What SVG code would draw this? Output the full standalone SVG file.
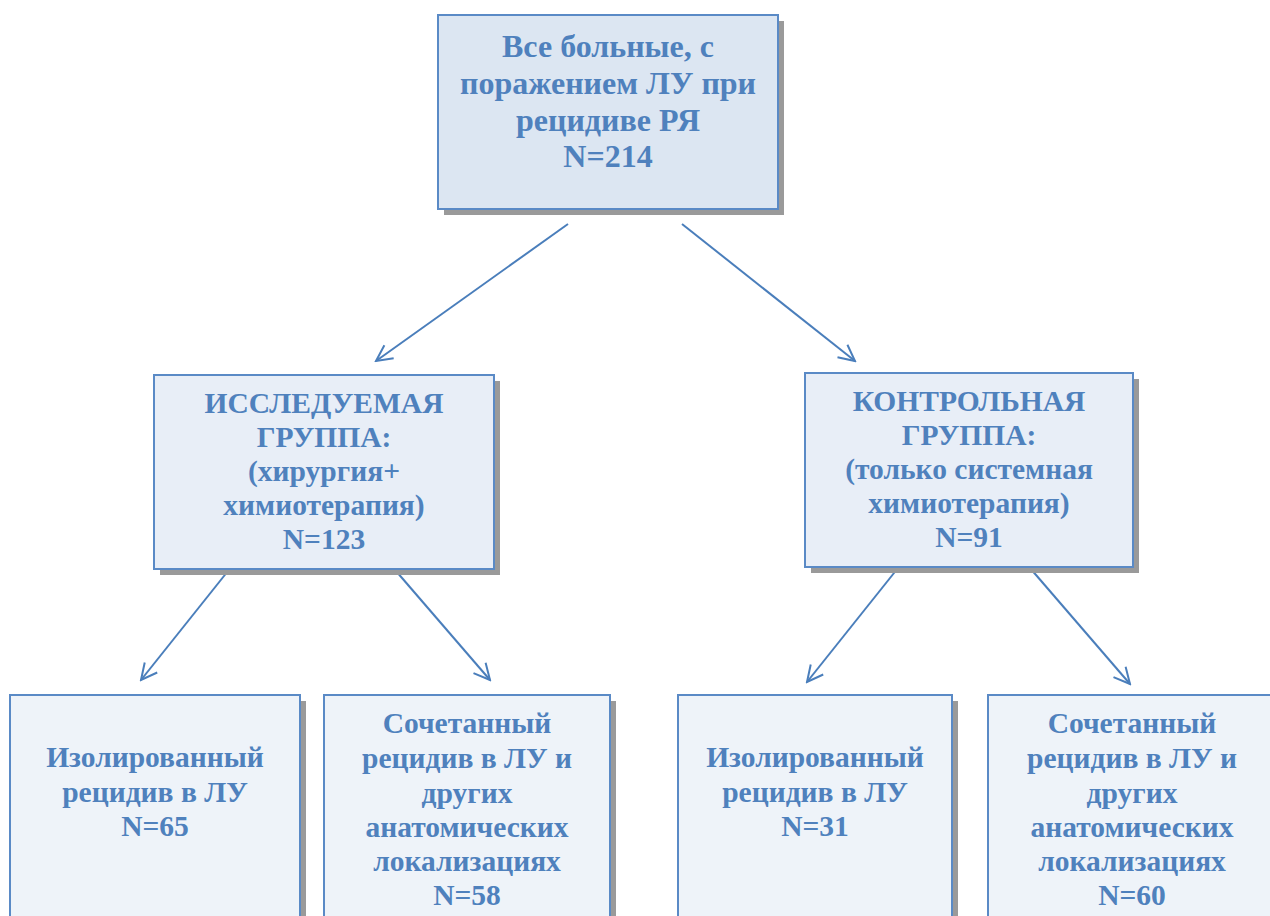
<svg xmlns="http://www.w3.org/2000/svg" width="1270" height="916" viewBox="0 0 1270 916">
<style>
.sh{fill:#9a9a9a}
.bx{stroke:#5a8ac6;stroke-width:2}
.t{font-family:"Liberation Serif","Times New Roman",serif;font-weight:bold;fill:#4f81bd;text-anchor:middle;font-size:29.5px}
.c{stroke:#4a7ebb;stroke-width:2;fill:none}
</style>
<defs>
<marker id="ah" viewBox="0 0 20 20" refX="18" refY="10" markerWidth="20" markerHeight="20" markerUnits="userSpaceOnUse" orient="auto">
<path d="M2,2 L18,10 L2,18" fill="none" stroke="#4a7ebb" stroke-width="2"/>
</marker>
</defs>
<rect width="1270" height="916" fill="#fff"/>
<g id="connectors">
<line class="c" x1="568" y1="224" x2="376" y2="361" marker-end="url(#ah)"/>
<line class="c" x1="682" y1="224" x2="855" y2="361" marker-end="url(#ah)"/>
<line class="c" x1="228" y1="571" x2="141" y2="680" marker-end="url(#ah)"/>
<line class="c" x1="396" y1="571" x2="490" y2="680" marker-end="url(#ah)"/>
<line class="c" x1="898" y1="568" x2="807" y2="682" marker-end="url(#ah)"/>
<line class="c" x1="1030" y1="568" x2="1130" y2="684" marker-end="url(#ah)"/>
</g>
<g id="top">
<rect class="sh" x="444" y="21" width="340" height="194"/>
<rect class="bx" x="438" y="15" width="340" height="194" fill="#dce6f2"/>
<text class="t" style="font-size:32px" x="608"><tspan x="608" y="57">Все больные, с</tspan><tspan x="608" y="94">поражением ЛУ при</tspan><tspan x="608" y="131">рецидиве РЯ</tspan><tspan x="608" y="167">N=214</tspan></text>
</g>
<g id="study">
<rect class="sh" x="160" y="381" width="340" height="194"/>
<rect class="bx" x="154" y="375" width="340" height="194" fill="#e8eef7"/>
<text class="t" x="324"><tspan x="324" y="413">ИССЛЕДУЕМАЯ</tspan><tspan x="324" y="447">ГРУППА:</tspan><tspan x="324" y="481">(хирургия+</tspan><tspan x="324" y="515">химиотерапия)</tspan><tspan x="324" y="549">N=123</tspan></text>
</g>
<g id="control">
<rect class="sh" x="811" y="379" width="328" height="194"/>
<rect class="bx" x="805" y="373" width="328" height="194" fill="#e8eef7"/>
<text class="t" x="969"><tspan x="969" y="411">КОНТРОЛЬНАЯ</tspan><tspan x="969" y="445">ГРУППА:</tspan><tspan x="969" y="479">(только системная</tspan><tspan x="969" y="513">химиотерапия)</tspan><tspan x="969" y="547">N=91</tspan></text>
</g>
<g id="iso1">
<rect class="sh" x="16" y="701" width="290" height="230"/>
<rect class="bx" x="10" y="695" width="290" height="230" fill="#eef3f9"/>
<text class="t" x="155"><tspan x="155" y="767">Изолированный</tspan><tspan x="155" y="802">рецидив в ЛУ</tspan><tspan x="155" y="836">N=65</tspan></text>
</g>
<g id="comb1">
<rect class="sh" x="330" y="701" width="286" height="230"/>
<rect class="bx" x="324" y="695" width="286" height="230" fill="#eef3f9"/>
<text class="t" x="467"><tspan x="467" y="733">Сочетанный</tspan><tspan x="467" y="768">рецидив в ЛУ и</tspan><tspan x="467" y="803">других</tspan><tspan x="467" y="837">анатомических</tspan><tspan x="467" y="871">локализациях</tspan><tspan x="467" y="905">N=58</tspan></text>
</g>
<g id="iso2">
<rect class="sh" x="684" y="701" width="274" height="230"/>
<rect class="bx" x="678" y="695" width="274" height="230" fill="#eef3f9"/>
<text class="t" x="815"><tspan x="815" y="767">Изолированный</tspan><tspan x="815" y="802">рецидив в ЛУ</tspan><tspan x="815" y="836">N=31</tspan></text>
</g>
<g id="comb2">
<rect class="sh" x="994" y="701" width="290" height="230"/>
<rect class="bx" x="988" y="695" width="290" height="230" fill="#eef3f9"/>
<text class="t" x="1132"><tspan x="1132" y="733">Сочетанный</tspan><tspan x="1132" y="768">рецидив в ЛУ и</tspan><tspan x="1132" y="803">других</tspan><tspan x="1132" y="837">анатомических</tspan><tspan x="1132" y="871">локализациях</tspan><tspan x="1132" y="905">N=60</tspan></text>
</g>
</svg>
